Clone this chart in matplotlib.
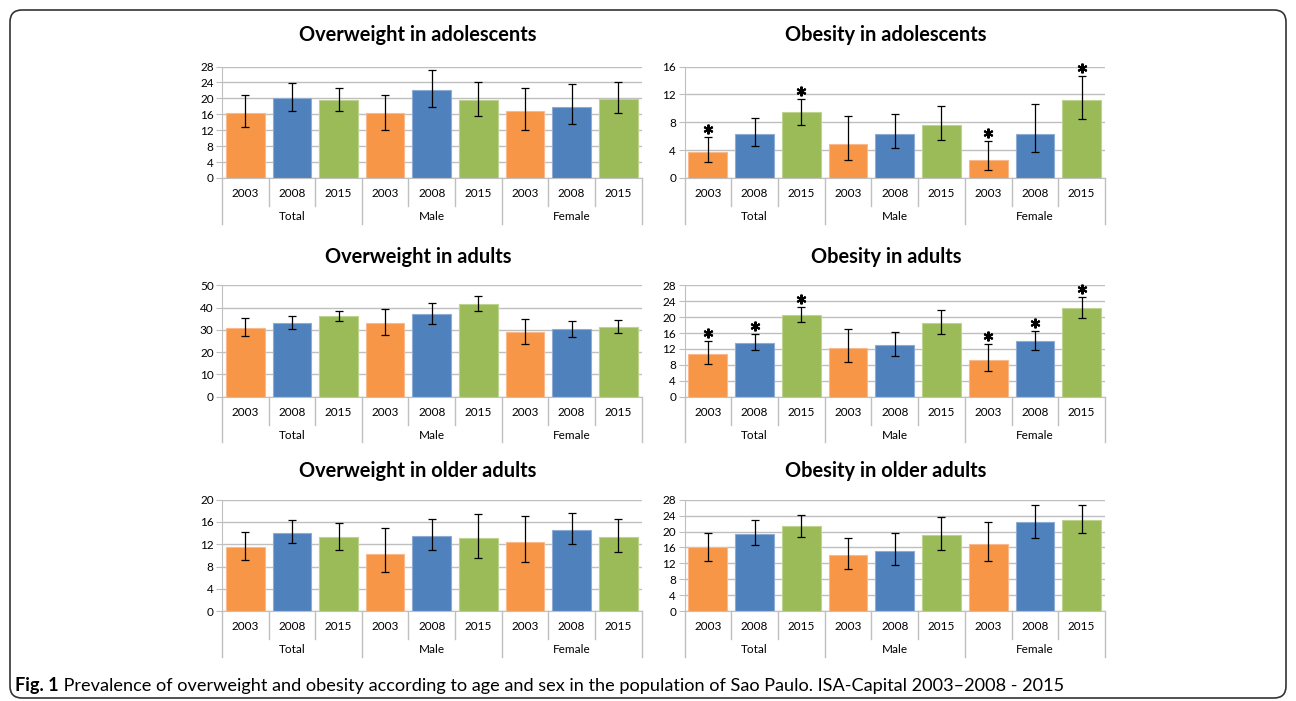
import matplotlib
matplotlib.use("Agg")
import matplotlib.pyplot as plt
from matplotlib.patches import FancyBboxPatch
from matplotlib.transforms import offset_copy
import numpy as np

plt.rcParams['font.family'] = ['Lato', 'DejaVu Sans']

# categories
years = ['2003', '2008', '2015'] * 3
groups = ['Total', 'Male', 'Female']

# Overweight in adolescents
ow_adol = [16.3, 20.0, 19.5, 16.2, 22.0, 19.5, 16.8, 17.9, 19.9]
ow_adol_lo = [12.7, 16.8, 16.9, 12.0, 17.8, 15.5, 12.1, 13.5, 16.2]
ow_adol_hi = [20.9, 23.8, 22.5, 20.8, 27.0, 24.1, 22.6, 23.6, 24.0]
ow_adol_star = []

# Obesity in adolescents
ob_adol = [3.7, 6.3, 9.5, 4.9, 6.3, 7.6, 2.6, 6.3, 11.2]
ob_adol_lo = [2.3, 4.6, 7.6, 2.6, 4.3, 5.5, 1.2, 3.7, 8.5]
ob_adol_hi = [5.9, 8.6, 11.4, 8.9, 9.2, 10.3, 5.3, 10.6, 14.7]
ob_adol_star = [0, 2, 6, 8]

# Overweight in adults
ow_adult = [30.8, 33.1, 36.2, 33.1, 37.3, 41.6, 29.0, 30.2, 31.3]
ow_adult_lo = [27.1, 30.2, 33.8, 27.7, 32.6, 38.3, 23.7, 26.8, 28.4]
ow_adult_hi = [35.2, 36.4, 38.6, 39.2, 42.2, 45.1, 34.9, 34.0, 34.6]
ow_adult_star = []

# Obesity in adults
ob_adult = [10.7, 13.5, 20.5, 12.2, 12.9, 18.5, 9.2, 13.9, 22.3]
ob_adult_lo = [8.1, 11.7, 18.7, 8.6, 10.2, 15.8, 6.4, 11.7, 19.9]
ob_adult_hi = [13.9, 15.7, 22.5, 17.1, 16.3, 21.8, 13.2, 16.6, 25.0]
ob_adult_star = [0, 1, 2, 6, 7, 8]

# Overweight in older adults
ow_old = [11.5, 14.0, 13.3, 10.2, 13.4, 13.1, 12.4, 14.5, 13.3]
ow_old_lo = [9.2, 12.2, 10.9, 7.0, 10.9, 9.6, 8.8, 12.0, 10.7]
ow_old_hi = [14.2, 16.3, 15.9, 15.0, 16.5, 17.5, 17.0, 17.6, 16.5]
ow_old_star = []

# Obesity in older adults
ob_old = [16.0, 19.5, 21.4, 14.1, 15.1, 19.1, 16.9, 22.3, 22.9]
ob_old_lo = [12.6, 16.5, 18.7, 10.5, 11.6, 15.3, 12.7, 18.5, 19.6]
ob_old_hi = [19.7, 23.0, 24.1, 18.5, 19.6, 23.6, 22.5, 26.7, 26.6]
ob_old_star = []

bar_colors = ['#F79646', '#4F81BD', '#9BBB59'] * 3
edge_colors = ['#FAB98A', '#8EACD3', '#BDD38F'] * 3
grid_c = '#BFBFBF'

W, H = 1296, 701
fig = plt.figure(figsize=(W / 100, H / 100), dpi=100)


def px_rect(x0, x1, ytop, y0):
    return [x0 / W, 1 - y0 / H, (x1 - x0) / W, (y0 - ytop) / H]


def draw_panel(ax, vals, lo, hi, stars, ymax, step):
    x = np.arange(len(vals))
    vals = np.array(vals)
    lo = np.array(lo)
    hi = np.array(hi)
    ax.bar(x, vals, width=0.83, color=bar_colors, edgecolor=edge_colors,
           linewidth=0.8, zorder=2)
    ax.errorbar(x, vals, yerr=[vals - lo, hi - vals], fmt='none', ecolor='black',
                elinewidth=0.9, capsize=3, capthick=0.9, zorder=3)
    # significance asterisks, a few pixels above the upper CI limit
    if stars:
        star_tr = offset_copy(ax.transData, fig=fig, x=0, y=8, units='dots')
        ax.plot(x[stars], hi[stars], linestyle='none', marker=(6, 2, 0),
                markersize=7, markeredgewidth=1.5, color='black',
                transform=star_tr, clip_on=False, zorder=4)
    ax.set_xlim(-0.5, len(vals) - 0.5)
    ax.set_ylim(0, ymax)
    ax.set_yticks(np.arange(0, ymax + 0.1, step))
    ax.yaxis.grid(True, color=grid_c, linewidth=1)
    ax.set_axisbelow(True)
    for s in ['top', 'right']:
        ax.spines[s].set_visible(False)
    for s in ['left', 'bottom']:
        ax.spines[s].set_color(grid_c)
    ax.set_xticks([])
    ax.tick_params(axis='y', length=4, color=grid_c, labelsize=8.5, pad=2)
    tr = ax.get_xaxis_transform()
    for b in range(len(vals) + 1):
        depth = 0.41 if b % 3 == 0 else 0.25
        ax.plot([b - 0.5, b - 0.5], [0, -depth], transform=tr, color=grid_c,
                linewidth=1, clip_on=False)
    for i, yr in enumerate(years):
        ax.text(i, -0.14, yr, transform=tr, ha='center', va='center', fontsize=8.5)
    for g, name in enumerate(groups):
        ax.text(3 * g + 1, -0.345, name, transform=tr, ha='center', va='center',
                fontsize=8.5)


panels = [
    ('Overweight in adolescents', ow_adol, ow_adol_lo, ow_adol_hi, ow_adol_star, 28, 4),
    ('Obesity in adolescents', ob_adol, ob_adol_lo, ob_adol_hi, ob_adol_star, 16, 4),
    ('Overweight in adults', ow_adult, ow_adult_lo, ow_adult_hi, ow_adult_star, 50, 10),
    ('Obesity in adults', ob_adult, ob_adult_lo, ob_adult_hi, ob_adult_star, 28, 4),
    ('Overweight in older adults', ow_old, ow_old_lo, ow_old_hi, ow_old_star, 20, 4),
    ('Obesity in older adults', ob_old, ob_old_lo, ob_old_hi, ob_old_star, 28, 4),
]

col_x = [(222, 641.5), (684.5, 1105)]
row_y = [(66.5, 178), (285.3, 396.7), (499.7, 611.2)]
title_x = [418, 886]
title_y = [35, 257, 471]

for k, (title, v, lo, hi, st, ymax, step) in enumerate(panels):
    r, c = divmod(k, 2)
    ax = fig.add_axes(px_rect(col_x[c][0], col_x[c][1], row_y[r][0], row_y[r][1]))
    draw_panel(ax, v, lo, hi, st, ymax, step)
    fig.text(title_x[c] / W, 1 - title_y[r] / H, title, ha='center', va='center',
             fontsize=14.4, fontweight='bold')

# outer rounded frame
box = FancyBboxPatch((0.10, 0.03), 12.76, 6.88,
                     boxstyle='round,pad=0,rounding_size=0.12',
                     transform=fig.dpi_scale_trans, facecolor='none',
                     edgecolor='#333333', linewidth=1.2)
fig.add_artist(box)

# caption
t1 = fig.text(15 / W, 1 - 686 / H, 'Fig. 1', ha='left', va='center',
              fontsize=13.1, fontweight='bold')
ax.annotate(' Prevalence of overweight and obesity according to age and sex in the '
            'population of Sao Paulo. ISA-Capital 2003\u20132008 - 2015',
            xy=(1, 0.5), xycoords=t1, ha='left', va='center', fontsize=13.1,
            annotation_clip=False)

fig.savefig('out.png', dpi=100)
